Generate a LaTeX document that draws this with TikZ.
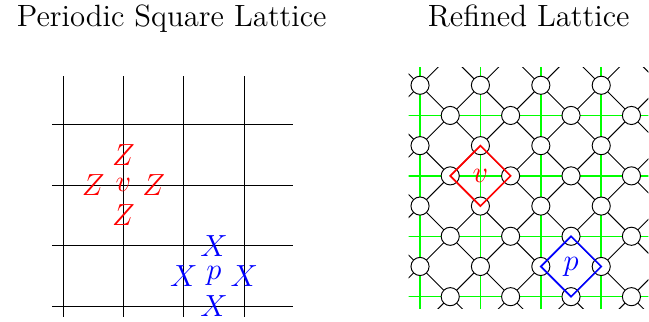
\documentclass[tikz,border=0pt]{standalone}
\usepackage{xcolor}
\begin{document}
\tikzset{
  gridline/.style={black, line width=0.45pt},
  greenline/.style={green, line width=0.7pt},
  medial/.style={black, line width=0.45pt},
  qubit/.style={circle, draw=black, fill=white, minimum size=0.3cm, inner sep=0pt, line width=0.45pt},
  bigfont/.style={font=\fontsize{14.5}{17}\selectfont},
  titlestyle/.style={bigfont, anchor=base, inner sep=0pt},
  zlab/.style={bigfont, text=red, inner sep=0pt},
  xlab/.style={bigfont, text=blue, inner sep=0pt},
  vdiamond/.style={red, line width=0.8pt, line join=miter},
  pdiamond/.style={blue, line width=0.8pt, line join=miter}
}
\begin{tikzpicture}
\useasboundingbox (-1.043,-0.265) rectangle (9.702,5.066);
% titles
\node[titlestyle] (t1) at (1.8,4.62) {Periodic Square Lattice};
\node[titlestyle] (t2) at (7.71,4.62) {Refined Lattice};
% left panel
\foreach \i in {0,...,3} {
  \draw[gridline] (\i,-0.18) -- (\i,3.8);
  \draw[gridline] (-0.18,\i) -- (3.8,\i);
}
\node[zlab] (v1) at (1,2) {$v$};
\node[zlab] (zt) at (1,2.5) {$Z$};
\node[zlab] (zb) at (1,1.5) {$Z$};
\node[zlab] (zl) at (0.5,2) {$Z$};
\node[zlab] (zr) at (1.5,2) {$Z$};
\node[xlab] (p1) at (2.5,0.5) {$p$};
\node[xlab] (xt) at (2.5,1) {$X$};
\node[xlab] (xb) at (2.5,0) {$X$};
\node[xlab] (xl) at (2,0.5) {$X$};
\node[xlab] (xr) at (3,0.5) {$X$};
% right panel
\begin{scope}[shift={(5.911,0.154)}]
  \begin{scope}
    \clip (-0.19,-0.19) rectangle (3.78,3.8);
    \foreach \i in {0,...,3} {
      \draw[greenline] (\i,-0.3) -- (\i,4);
      \draw[greenline] (-0.3,\i) -- (4,\i);
    }
    \foreach \c in {-0.5,0.5,...,7.5}
      \draw[medial] ({\c+5},-5) -- ({\c-5},5);
    \foreach \c in {-3.5,-2.5,...,3.5}
      \draw[medial] ({\c-5},-5) -- ({\c+5},5);
  \end{scope}
  \foreach \i in {0,...,3} {
    \foreach \j in {0,...,3} {
      \node[qubit] (qv-\i-\j) at (\i,{\j+0.5}) {};
      \node[qubit] (qh-\i-\j) at ({\i+0.5},\j) {};
    }
  }
  \draw[vdiamond] (0.5,2) -- (1,2.5) -- (1.5,2) -- (1,1.5) -- cycle;
  \node[zlab] (v2) at (1,2) {$v$};
  \draw[pdiamond] (2,0.5) -- (2.5,1) -- (3,0.5) -- (2.5,0) -- cycle;
  \node[xlab] (p2) at (2.5,0.5) {$p$};
\end{scope}
\end{tikzpicture}
\end{document}
